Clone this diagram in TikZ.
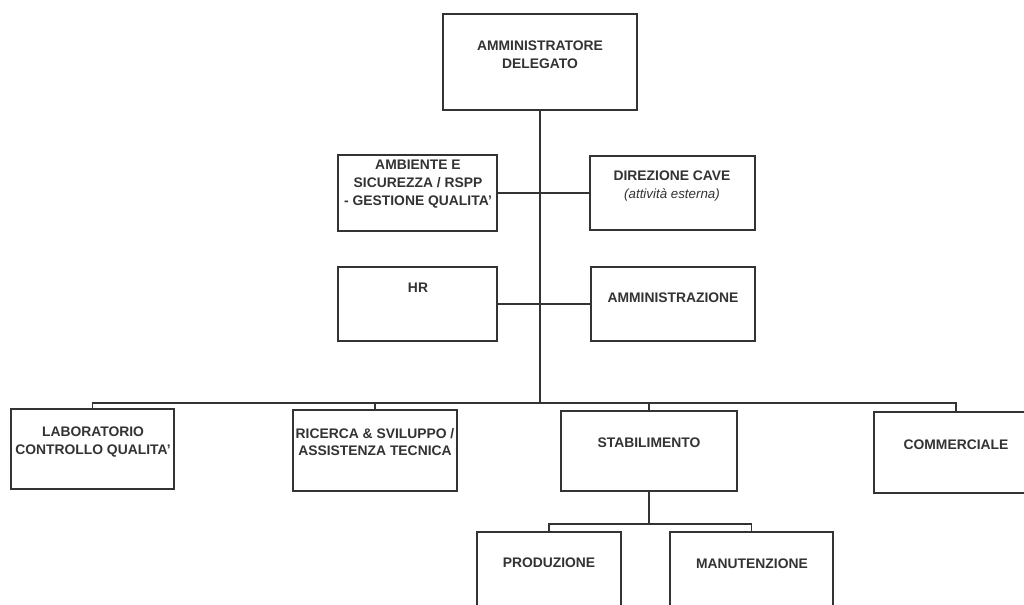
\documentclass[tikz,border=0pt]{standalone}
\usepackage{fontspec}
\setmainfont{Liberation Sans}
\begin{document}
\begin{tikzpicture}[x=0.75pt,y=-0.75pt,
  box/.style={draw=black!80, line width=1.1pt, rectangle, inner sep=0pt, outer sep=0pt, anchor=north west},
  lbl/.style={font=\fontsize{10.4}{13.4}\selectfont\bfseries, text=black!80, align=center, inner sep=0pt},
  conn/.style={draw=black!80, line width=1.1pt}]
\useasboundingbox (0,0) rectangle (1024,604);
\clip (0,0) rectangle (1024,604);
\fill[white] (0,0) rectangle (1024,604);

% boxes
\node[box, minimum width=194*0.75pt, minimum height=96*0.75pt] (ad) at (443,14) {};
\node[box, minimum width=159*0.75pt, minimum height=76*0.75pt] (amb) at (338,155) {};
\node[box, minimum width=165*0.75pt, minimum height=74*0.75pt] (dir) at (590,156) {};
\node[box, minimum width=159*0.75pt, minimum height=74*0.75pt] (hr) at (338,267) {};
\node[box, minimum width=164*0.75pt, minimum height=74*0.75pt] (adm) at (591,267) {};
\node[box, minimum width=163*0.75pt, minimum height=80*0.75pt] (lab) at (11,409) {};
\node[box, minimum width=164*0.75pt, minimum height=81*0.75pt] (ric) at (293,410) {};
\node[box, minimum width=176*0.75pt, minimum height=80*0.75pt] (stab) at (561,411) {};
\node[box, minimum width=164*0.75pt, minimum height=81*0.75pt] (com) at (874,412) {};
\node[box, minimum width=144*0.75pt, minimum height=80*0.75pt] (prod) at (477,532) {};
\node[box, minimum width=163*0.75pt, minimum height=80*0.75pt] (man) at (670,532) {};

% labels
\node[lbl] (adt) at (540,54.5) {AMMINISTRATORE\\DELEGATO};
\node[lbl] (ambt) at (418,184) {AMBIENTE E\\SICUREZZA / RSPP\\- GESTIONE QUALITA'};
\node[lbl] (dirt) at (672,186) {DIREZIONE CAVE\\{\mdseries\itshape\fontsize{10}{12}\selectfont (attività esterna)}};
\node[lbl] (hrt) at (418,288) {HR};
\node[lbl] (admt) at (673,298) {AMMINISTRAZIONE};
\node[lbl] (labt) at (93,442) {LABORATORIO\\CONTROLLO QUALITA'};
\node[lbl] (rict) at (375,442) {RICERCA \& SVILUPPO /\\ASSISTENZA TECNICA};
\node[lbl] (stabt) at (649,443) {STABILIMENTO};
\node[lbl] (comt) at (956,445) {COMMERCIALE};
\node[lbl] (prodt) at (549,563) {PRODUZIONE};
\node[lbl] (mant) at (752,564) {MANUTENZIONE};

% connectors
\coordinate (bus) at (540,403);
\coordinate (sub) at (649,524);
\draw[conn] (ad.south) -- (bus);
\draw[conn] (amb.east) -- (amb.east -| dir.west);
\draw[conn] (hr.east) -- (hr.east -| adm.west);
\draw[conn] (lab.north) |- (bus) -| (com.north);
\draw[conn] (ric.north) -- (ric.north |- bus);
\draw[conn] (stab.north) -- (stab.north |- bus);
\draw[conn] (stab.south) -- (sub);
\draw[conn] (prod.north) |- (sub) -| (man.north);
\end{tikzpicture}
\end{document}
